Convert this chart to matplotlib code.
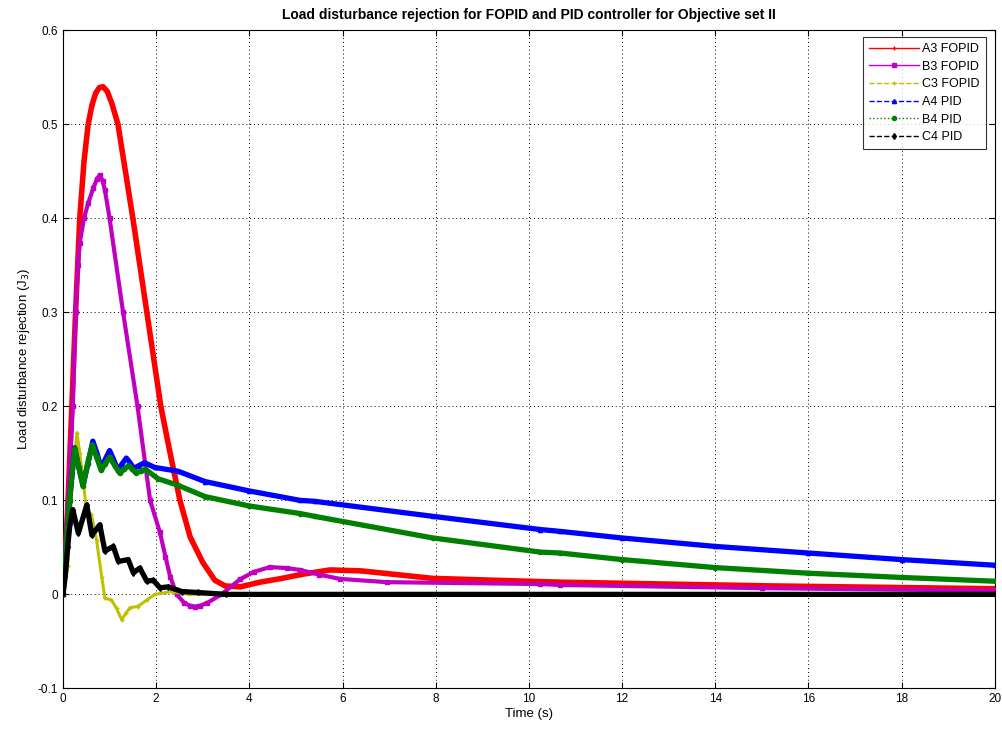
import matplotlib

matplotlib.use("Agg")
import matplotlib.pyplot as plt
from matplotlib.lines import Line2D

plt.rcParams["font.family"] = ["Liberation Sans", "DejaVu Sans"]

# values
t_a3 = [0, 0.1, 0.19, 0.27, 0.36, 0.45, 0.54, 0.62, 0.7, 0.78, 0.86, 0.95, 1.05, 1.18, 1.5,
        1.8, 2.1, 2.3, 2.51, 2.73, 3.0, 3.26, 3.48, 3.8, 4.23, 4.7, 5.09, 5.73, 6.4, 7.94,
        10.24, 10.67, 15.2, 20]
v_a3 = [0, 0.09, 0.2, 0.3, 0.4, 0.46, 0.5, 0.52, 0.533, 0.539, 0.54, 0.535, 0.522, 0.5, 0.4,
        0.3, 0.2, 0.15, 0.1, 0.061, 0.034, 0.015, 0.009, 0.008, 0.013, 0.017, 0.021, 0.026, 0.025, 0.017,
        0.0136, 0.013, 0.009, 0.006]

t_b3 = [0, 0.11, 0.21, 0.27, 0.32, 0.36, 0.45, 0.54, 0.65, 0.73, 0.79, 0.85, 0.9, 1.0, 1.29,
        1.6, 1.87, 2.08, 2.2, 2.3, 2.44, 2.6, 2.72, 2.83, 2.95, 3.1, 3.4, 3.8, 4.1, 4.44,
        4.8, 5.09, 5.5, 5.94, 6.95, 10.24, 10.67, 15, 20]
v_b3 = [0, 0.1, 0.2, 0.3, 0.35, 0.374, 0.4, 0.416, 0.432, 0.442, 0.446, 0.44, 0.43, 0.4, 0.3,
        0.2, 0.1, 0.066, 0.04, 0.019, 0.0, -0.009, -0.012, -0.013, -0.012, -0.009, 0.0, 0.016, 0.024, 0.029,
        0.028, 0.026, 0.021, 0.0165, 0.013, 0.011, 0.010, 0.0066, 0.004]

t_c3 = [0, 0.1, 0.2, 0.3, 0.36, 0.43, 0.51, 0.61, 0.72, 0.83, 0.9, 1.04, 1.15, 1.26, 1.35,
        1.44, 1.6, 1.8, 1.97, 2.33, 2.7, 3.5, 20]
v_c3 = [0, 0.03, 0.12, 0.172, 0.15, 0.122, 0.087, 0.085, 0.058, 0.019, -0.004, -0.006, -0.015, -0.027, -0.02,
        -0.014, -0.013, -0.006, 0.0, 0.003, 0.0, 0.0, 0.0]

t_a4 = [0, 0.07, 0.14, 0.25, 0.34, 0.43, 0.54, 0.64, 0.73, 0.82, 0.91, 1.0, 1.09, 1.18, 1.27,
        1.36, 1.44, 1.52, 1.63, 1.75, 1.97, 2.47, 3.05, 4.0, 5.09, 5.4, 7.94, 10.24, 10.67, 12,
        14, 16, 18, 20]
v_a4 = [0, 0.05, 0.1, 0.156, 0.135, 0.116, 0.14, 0.163, 0.15, 0.134, 0.144, 0.153, 0.143, 0.132, 0.139,
        0.145, 0.14, 0.134, 0.137, 0.14, 0.135, 0.131, 0.12, 0.11, 0.1, 0.099, 0.083, 0.069, 0.067, 0.06,
        0.051, 0.044, 0.037, 0.031]

t_b4 = [0, 0.07, 0.14, 0.25, 0.34, 0.43, 0.53, 0.63, 0.72, 0.82, 0.91, 1.0, 1.11, 1.22, 1.31,
        1.41, 1.49, 1.57, 1.67, 1.77, 2.04, 2.47, 3.05, 4.0, 5.09, 5.4, 7.94, 10.24, 10.67, 12,
        14, 16, 18, 20]
v_b4 = [0, 0.05, 0.1, 0.155, 0.135, 0.115, 0.14, 0.159, 0.146, 0.132, 0.139, 0.146, 0.137, 0.129, 0.133,
        0.137, 0.133, 0.129, 0.131, 0.133, 0.123, 0.116, 0.104, 0.094, 0.086, 0.083, 0.06, 0.045, 0.044, 0.037,
        0.0285, 0.0225, 0.018, 0.014]

t_c4 = [0, 0.05, 0.1, 0.15, 0.21, 0.33, 0.51, 0.62, 0.79, 0.9, 1.08, 1.19, 1.4, 1.51, 1.65,
        1.8, 1.94, 2.08, 2.26, 2.55, 2.9, 3.5, 20]
v_c4 = [0, 0.02, 0.05, 0.075, 0.09, 0.065, 0.095, 0.063, 0.074, 0.046, 0.051, 0.035, 0.037, 0.023, 0.028,
        0.014, 0.015, 0.007, 0.008, 0.003, 0.002, 0.0, 0.0]

x_ticks = [0, 2, 4, 6, 8, 10, 12, 14, 16, 18, 20]
y_ticks = [-0.1, 0, 0.1, 0.2, 0.3, 0.4, 0.5, 0.6]

series = [
    ("A3 FOPID", t_a3, v_a3, "#ff0000", "+", 4.0),
    ("B3 FOPID", t_b3, v_b3, "#c000c0", "s", 3.0),
    ("C3 FOPID", t_c3, v_c3, "#c0c000", "+", 2.2),
    ("A4 PID", t_a4, v_a4, "#0000ff", "^", 3.8),
    ("B4 PID", t_b4, v_b4, "#008000", "o", 3.8),
    ("C4 PID", t_c4, v_c4, "#000000", "d", 3.8),
]
legend_styles = ["-", "-", "--", "--", ":", "--"]

fig = plt.figure(figsize=(10.03, 7.30), dpi=100)
ax = fig.add_axes([0.0628, 0.057, 0.929, 0.9015])

for name, t, v, color, mk, lw in series:
    ax.plot(t, v, color=color, linestyle="-", linewidth=lw, solid_joinstyle="round",
            solid_capstyle="round", marker=mk, markersize=3, zorder=3)

handles = []
for (name, t, v, color, mk, lw), lls in zip(series, legend_styles):
    handles.append(Line2D([], [], color=color, linestyle=lls, linewidth=1,
                          marker=mk, markersize=3, label=name))

ax.set_xlim(0, 20)
ax.set_ylim(-0.1, 0.6)
ax.set_xticks(x_ticks)
ax.set_yticks(y_ticks)
ax.set_yticklabels(["-0.1", "0", "0.1", "0.2", "0.3", "0.4", "0.5", "0.6"])
ax.grid(True, color="black", linestyle=(0, (1, 3)), linewidth=0.7)
ax.tick_params(direction="in", labelsize=8.5, top=True, right=True, length=4)
for s in ax.spines.values():
    s.set_linewidth(0.8)

ax.set_xlabel("Time (s)", fontsize=9.5, labelpad=2)
ax.set_ylabel(r"Load disturbance rejection (J$_3$)", fontsize=9.5, labelpad=4)
ax.set_title("Load disturbance rejection for FOPID and PID controller for Objective set II",
             fontsize=10, fontweight="bold", pad=8)

leg = ax.legend(handles=handles, loc="upper right", bbox_to_anchor=(0.9975, 0.9995),
                fontsize=9, frameon=True, fancybox=False, edgecolor="black",
                handlelength=4.0, borderpad=0.5, labelspacing=0.45, handletextpad=0.25)
leg.get_frame().set_linewidth(0.8)

fig.savefig("out.png", dpi=100, facecolor="white")
